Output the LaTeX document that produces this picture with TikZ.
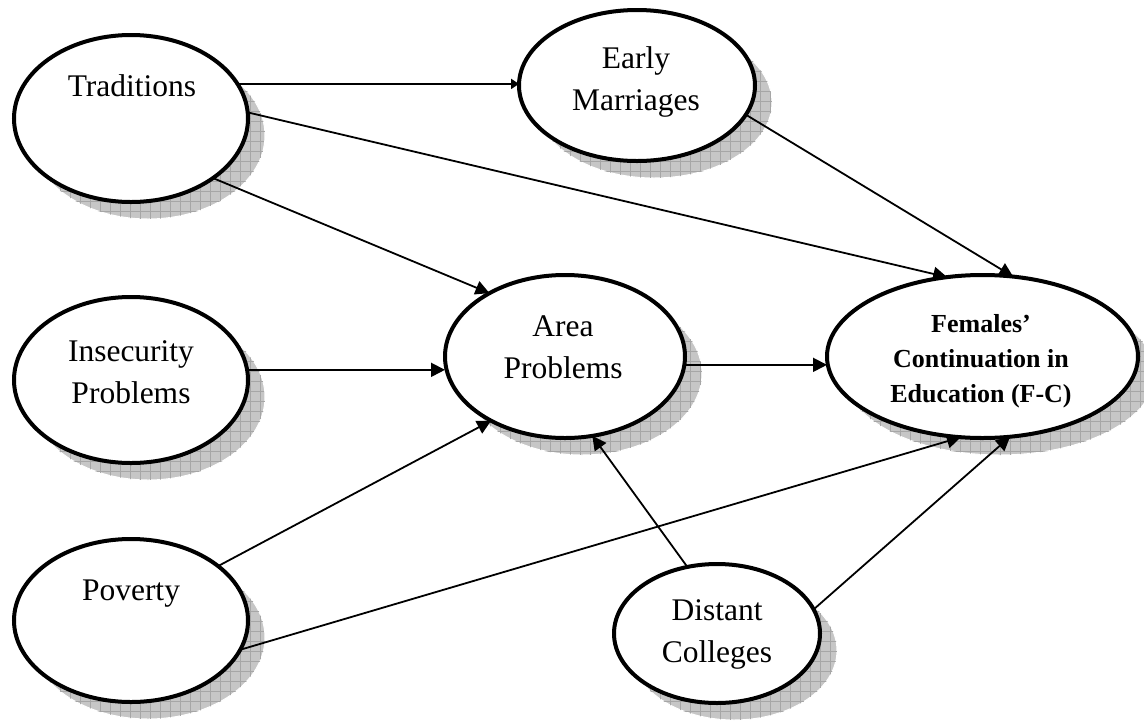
\documentclass[tikz,border=0pt]{standalone}
\usepackage{fontspec}
\setmainfont{Liberation Serif}
\usetikzlibrary{shapes.geometric,shadows,patterns.meta,arrows.meta}
\tikzset{
  bubble/.style={ellipse, draw=black, line width=4pt, fill=white, inner sep=0pt, outer sep=0pt,
    general shadow={shadow xshift=17pt, shadow yshift=-17pt, fill=gray!45, draw=white, line width=1pt},
    general shadow={shadow xshift=17pt, shadow yshift=-17pt, pattern={Lines[angle=0,distance=10pt,line width=0.6pt]}, pattern color=gray!70},
    general shadow={shadow xshift=17pt, shadow yshift=-17pt, pattern={Lines[angle=90,distance=10pt,line width=0.6pt]}, pattern color=gray!70}},
  lbl/.style={align=center, anchor=base, inner sep=0pt, font=\fontsize{31.5pt}{42pt}\selectfont},
  blbl/.style={align=center, anchor=base, inner sep=0pt, font=\fontsize{26pt}{35pt}\selectfont\bfseries},
  conn/.style={line width=1.8pt, -{Triangle[length=14pt,width=14pt]}},
  sconn/.style={line width=1.8pt, -{Triangle[length=8pt,width=10pt]}}
}
\begin{document}
\begin{tikzpicture}[x=1pt,y=-1pt]
\useasboundingbox (0,0) rectangle (1144,721);
% ellipses
\node[bubble, minimum width=234pt, minimum height=167pt] (trad) at (131,118.5) {};
\node[bubble, minimum width=236pt, minimum height=151pt] (early) at (637,85.5) {};
\node[bubble, minimum width=234pt, minimum height=166pt] (insec) at (131,380) {};
\node[bubble, minimum width=240pt, minimum height=163pt] (area) at (565,356.5) {};
\node[bubble, minimum width=311pt, minimum height=163pt] (fem) at (982.5,356.5) {};
\node[bubble, minimum width=234pt, minimum height=163pt] (pov) at (131,620.5) {};
\node[bubble, minimum width=206pt, minimum height=139pt] (dist) at (717,633.5) {};
% labels (base = baseline of last line)
\node[lbl] (tradt) at (132,96) {Traditions};
\node[lbl] (earlyt) at (636,110) {Early\\Marriages};
\node[lbl] (insect) at (131,403) {Insecurity\\Problems};
\node[lbl] (areat) at (563,378) {Area\\Problems};
\node[blbl] (femt) at (981,402) {Females’\\Continuation in\\Education (F-C)};
\node[lbl] (povt) at (131,600) {Poverty};
\node[lbl] (distt) at (717,662) {Distant\\Colleges};
% connectors
\draw[sconn] (trad.18.5) -- (trad.18.5 -| early.west);
\draw[conn] (trad.3.3) -- (fem.114.1);
\draw[conn] (trad.-36.2) -- (area.140.3);
\draw[conn] (early.-15.3) -- (fem.69.1);
\draw[conn] (insec.5.9) -- (insec.5.9 -| area.west);
\draw[conn] (pov.32.7) -- (area.221);
\draw[conn] (pov.-15.9) -- (fem.255.8);
\draw[conn] (area.-4.1) -- (area.-4.1 -| fem.west);
\draw[conn] (dist.114.1) -- (area.-71.9);
\draw[conn] (dist.14.7) -- (fem.-71.1);
\end{tikzpicture}
\end{document}
